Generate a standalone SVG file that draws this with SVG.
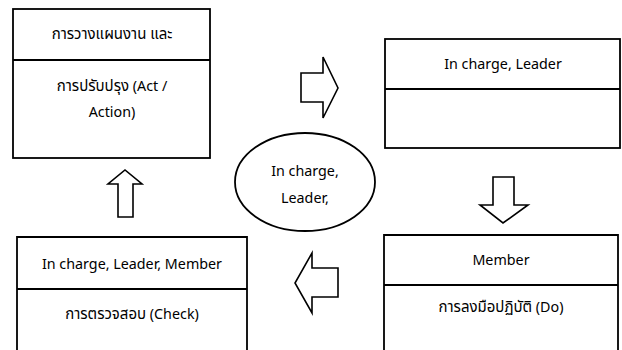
<svg xmlns="http://www.w3.org/2000/svg" width="622" height="350" viewBox="0 0 622 350">
<style>
.box{fill:#fff;stroke:#000;stroke-width:1.8}
.arr{fill:#fff;stroke:#000;stroke-width:1.6;stroke-linejoin:miter}
text{font-family:"Noto Sans","Noto Sans Thai",sans-serif;font-size:14.3px;fill:#000;text-anchor:middle;dominant-baseline:central}
.th{font-size:15px}
</style>
<rect width="622" height="350" fill="#fff"/>
<g id="act">
<rect class="box" x="13" y="9" width="197" height="149"/>
<line class="box" x1="13" y1="60" x2="210" y2="60"/>
<text x="112" y="33"><tspan class="th">การวางแผนงาน และ</tspan></text>
<text x="112" y="85"><tspan class="th">การปรับปรุง</tspan> (Act /</text>
<text x="112" y="111">Action)</text>
</g>
<g id="plan">
<rect class="box" x="385" y="39" width="235" height="109"/>
<line class="box" x1="385" y1="89" x2="620" y2="89"/>
<text x="503" y="63">In charge, Leader</text>
</g>
<g id="center">
<ellipse class="box" cx="305" cy="182" rx="70" ry="49"/>
<text x="305" y="170">In charge,</text>
<text x="305" y="197">Leader,</text>
</g>
<g id="check">
<path class="box" d="M17,352 V237 H247 V352"/>
<line class="box" x1="17" y1="289" x2="247" y2="289"/>
<text x="132" y="263">In charge, Leader, Member</text>
<text x="132" y="313"><tspan class="th">การตรวจสอบ</tspan> (Check)</text>
</g>
<g id="do">
<path class="box" d="M384,352 V235 H618 V352"/>
<line class="box" x1="384" y1="285" x2="618" y2="285"/>
<text x="501" y="259">Member</text>
<text x="501" y="306"><tspan class="th">การลงมือปฏิบัติ</tspan> (Do)</text>
</g>
<g id="connectors">
<path class="arr" d="M301,73 H323 V57 L338,88 L323,118 V102 H301 Z"/>
<path class="arr" d="M493,177 H514 V205 H528 L503,223 L480,205 H493 Z"/>
<path class="arr" d="M338,268 V297 H312 V313 L295,283 L312,253 V268 Z"/>
<path class="arr" d="M118,217 V184 H108 L125,170 L142,184 H133 V217 Z"/>
</g>
</svg>
